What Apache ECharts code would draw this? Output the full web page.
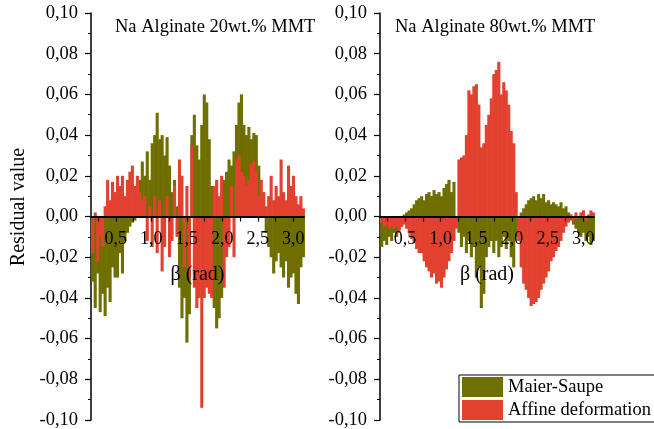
<!DOCTYPE html>
<html><head><meta charset="utf-8">
<script src="https://cdn.jsdelivr.net/npm/echarts@6/dist/echarts.min.js"></script>
<style>html,body{margin:0;padding:0;background:#fff}#c{width:654px;height:429px}</style>
</head><body><div id="c"></div>
<script>
// beta sampling (degrees)
const betaDeg = [10,12,14,16,18,20,22,24,26,28,30,32,34,36,38,40,42,44,46,48,
  50,52,54,56,58,60,62,64,66,68,70,72,74,76,78,80,82,84,86,88,
  90,92,94,96,98,100,102,104,106,108,110,112,114,116,118,120,122,124,126,128,
  130,132,134,136,138,140,142,144,146,148,150,152,154,156,158,160,162,164,166,168,
  170,172,174,176,178,180];

// Na Alginate 20wt.% MMT
const left_MaierSaupe = [
  -0.032,-0.045,-0.028,-0.047,-0.038,
  -0.049,-0.035,-0.042,-0.025,-0.030,
  -0.030,-0.018,-0.028,-0.012,-0.008,
  -0.005,-0.003,-0.002,0.004,0.018,
  0.027,0.020,0.032,0.018,0.036,
  0.040,0.051,0.038,0.040,0.030,
  0.039,0.025,0.012,0.018,0.005,
  -0.035,-0.050,-0.040,-0.062,-0.048,
  0.040,0.050,0.035,0.028,0.045,
  0.060,0.056,0.038,0.015,-0.045,
  -0.055,-0.050,-0.040,0.018,0.022,
  0.028,0.025,0.032,0.045,0.056,
  0.060,0.045,0.040,0.044,0.038,
  0.041,0.040,0.025,0.012,0.005,
  -0.008,-0.015,-0.020,-0.028,-0.022,
  -0.018,-0.025,-0.030,-0.022,-0.035,
  -0.030,-0.028,-0.038,-0.043,-0.025,
  -0.020];
const left_Affine = [
  -0.018,0.002,-0.022,-0.010,-0.015,
  0.005,0.018,0.008,0.017,0.012,
  0.020,0.015,0.020,0.010,0.018,
  0.022,0.025,0.015,0.020,0.012,
  0.008,0.010,-0.012,0.005,-0.015,
  0.010,-0.018,0.008,-0.027,-0.015,
  0.010,-0.020,-0.012,0.015,-0.010,
  0.028,0.020,-0.025,0.015,-0.030,
  0.035,-0.035,-0.045,-0.040,-0.094,
  -0.040,-0.035,-0.038,-0.040,0.015,
  0.018,0.010,0.020,-0.035,-0.020,
  -0.015,0.015,-0.020,0.028,0.030,
  0.022,0.020,0.015,0.018,0.026,
  0.027,0.022,0.010,0.018,0.012,
  0.005,0.010,0.020,0.008,0.015,
  0.010,0.028,0.012,0.008,0.025,
  0.015,0.020,0.010,0.006,0.010,
  0.004];

// Na Alginate 80wt.% MMT
const right_MaierSaupe = [
  -0.015,-0.012,-0.014,-0.010,-0.012,
  -0.008,-0.010,-0.006,-0.005,0.001,
  0.002,0.003,0.004,0.006,0.008,
  0.009,0.010,0.008,0.011,0.012,
  0.010,0.013,0.011,0.012,0.010,
  0.014,0.016,0.018,0.012,0.017,
  -0.005,-0.008,-0.015,-0.010,-0.018,
  -0.012,-0.020,-0.015,-0.030,-0.025,
  -0.045,-0.038,-0.020,-0.015,-0.012,
  -0.018,-0.012,-0.020,-0.015,-0.010,
  -0.016,-0.012,-0.020,-0.025,-0.010,
  -0.005,0.002,0.004,0.006,0.008,
  0.009,0.010,0.008,0.011,0.009,
  0.011,0.007,0.008,0.006,0.007,
  0.006,0.005,0.007,0.004,0.005,
  0.002,-0.002,-0.004,-0.006,-0.008,
  -0.010,-0.008,-0.012,-0.010,-0.014,
  -0.012];
const right_Affine = [
  -0.003,-0.005,-0.004,-0.006,-0.005,
  -0.006,-0.005,-0.008,-0.005,-0.004,
  -0.006,-0.008,-0.011,-0.013,-0.016,
  -0.018,-0.018,-0.022,-0.025,-0.027,
  -0.030,-0.028,-0.033,-0.032,-0.035,
  -0.030,-0.026,-0.022,-0.018,-0.012,
  -0.006,0.028,0.029,0.030,0.040,
  0.062,0.060,0.064,0.065,0.055,
  0.034,0.036,0.045,0.050,0.058,
  0.070,0.072,0.076,0.060,0.066,
  0.062,0.055,0.042,0.036,0.012,
  -0.012,-0.025,-0.033,-0.036,-0.040,
  -0.044,-0.043,-0.042,-0.040,-0.036,
  -0.033,-0.030,-0.027,-0.022,-0.020,
  -0.017,-0.015,-0.012,-0.008,-0.005,
  -0.003,0.001,-0.002,0.002,-0.001,
  0.002,0.003,-0.002,0.001,0.003,
  0.002];

const xLabelValues = [0.5,1.0,1.5,2.0,2.5,3.0];
const xTickValues = [0.25,0.5,0.75,1.0,1.25,1.5,1.75,2.0,2.25,2.5,2.75,3.0];
const panelTitles = ['Na Alginate 20wt.% MMT','Na Alginate 80wt.% MMT'];
const seriesNames = ['Maier-Saupe','Affine deformation'];

const FONT = '"Liberation Serif","Times New Roman",serif';
const OLIVE = '#6f6f00';
const RED = '#e2412f';
const X_MIN = 0.15, X_MAX = 3.15;
const BAR_W = 3.1;

function pairs(vals){ return vals.map((v,i)=>[betaDeg[i]*Math.PI/180, v]); }
const comma = (v,d)=>v.toFixed(d).replace('.',',');

// hidden x axis for the bar grids
function makeDataX(gi){
  return {type:'value', gridIndex:gi, min:X_MIN, max:X_MAX, show:false,
    axisLine:{onZero:false}, splitLine:{show:false}};
}
// visible x axis drawn at the zero line (bottom of an upper-half grid)
function makeAxisX(gi){
  return {type:'value', gridIndex:gi, min:X_MIN, max:X_MAX, z:10, position:'bottom',
    axisLine:{onZero:false, lineStyle:{color:'#000', width:2}},
    axisTick:{show:true, customValues:xTickValues, length:5, lineStyle:{color:'#000', width:1.2}},
    axisLabel:{customValues:xLabelValues, formatter:v=>comma(v,1), margin:14,
      fontFamily:FONT, fontSize:18, color:'#000'},
    splitLine:{show:false},
    name:'β (rad)', nameLocation:'middle', nameGap:48,
    nameTextStyle:{fontFamily:FONT, fontSize:20, color:'#000'}};
}
function makeY(gi){
  return {type:'value', gridIndex:gi, min:-0.1, max:0.1, interval:0.02,
    axisLine:{show:true, onZero:false, lineStyle:{color:'#000', width:1.5}},
    axisTick:{show:true, length:6, lineStyle:{color:'#000', width:1.2}},
    minorTick:{show:true, splitNumber:2, length:3, lineStyle:{color:'#000', width:1}},
    axisLabel:{formatter:v=>comma(v,2), margin:13, fontFamily:FONT, fontSize:18.5, color:'#000'},
    splitLine:{show:false}};
}
function makeHiddenY(gi){
  return {type:'value', gridIndex:gi, min:0, max:0.1, show:false, splitLine:{show:false}};
}

const TOP = 13, H = 407;
const chart = echarts.init(document.getElementById('c'));
chart.setOption({
  animation:false,
  backgroundColor:'#fff',
  title:[
    {text:panelTitles[0], left:115, top:18, padding:0, textStyle:{fontFamily:FONT, fontSize:18.5, fontWeight:'normal', color:'#000'}},
    {text:panelTitles[1], left:395, top:18, padding:0, textStyle:{fontFamily:FONT, fontSize:18.5, fontWeight:'normal', color:'#000'}}
  ],
  grid:[
    {left:91, top:TOP, width:213, height:H, outerBoundsMode:'none', containLabel:false},
    {left:380, top:TOP, width:214, height:H, outerBoundsMode:'none', containLabel:false},
    {left:91, top:TOP, width:213, height:H/2, outerBoundsMode:'none', containLabel:false},
    {left:380, top:TOP, width:214, height:H/2, outerBoundsMode:'none', containLabel:false}
  ],
  xAxis:[makeDataX(0), makeDataX(1), makeAxisX(2), makeAxisX(3)],
  yAxis:[makeY(0), makeY(1), makeHiddenY(2), makeHiddenY(3)],
  legend:{orient:'vertical', left:459, top:375, itemWidth:41, itemHeight:20, itemGap:3,
    padding:[2,6,2,3], borderColor:'#000', borderWidth:1, backgroundColor:'#fff', icon:'rect',
    textStyle:{fontFamily:FONT, fontSize:18.5, color:'#000'}, data:seriesNames},
  graphic:[
    {type:'text', x:19, y:207, rotation:Math.PI/2,
      style:{text:'Residual value', fontFamily:FONT, fontSize:20, fill:'#000', textAlign:'center', textVerticalAlign:'middle'}}
  ],
  series:[
    {type:'bar', name:seriesNames[0], xAxisIndex:0, yAxisIndex:0, data:pairs(left_MaierSaupe), barWidth:BAR_W, itemStyle:{color:OLIVE}},
    {type:'bar', name:seriesNames[1], xAxisIndex:0, yAxisIndex:0, data:pairs(left_Affine), barWidth:BAR_W, barGap:'-100%', itemStyle:{color:RED}},
    {type:'bar', name:seriesNames[0], xAxisIndex:1, yAxisIndex:1, data:pairs(right_MaierSaupe), barWidth:BAR_W, itemStyle:{color:OLIVE}},
    {type:'bar', name:seriesNames[1], xAxisIndex:1, yAxisIndex:1, data:pairs(right_Affine), barWidth:BAR_W, barGap:'-100%', itemStyle:{color:RED}}
  ]
});
</script></body></html>
